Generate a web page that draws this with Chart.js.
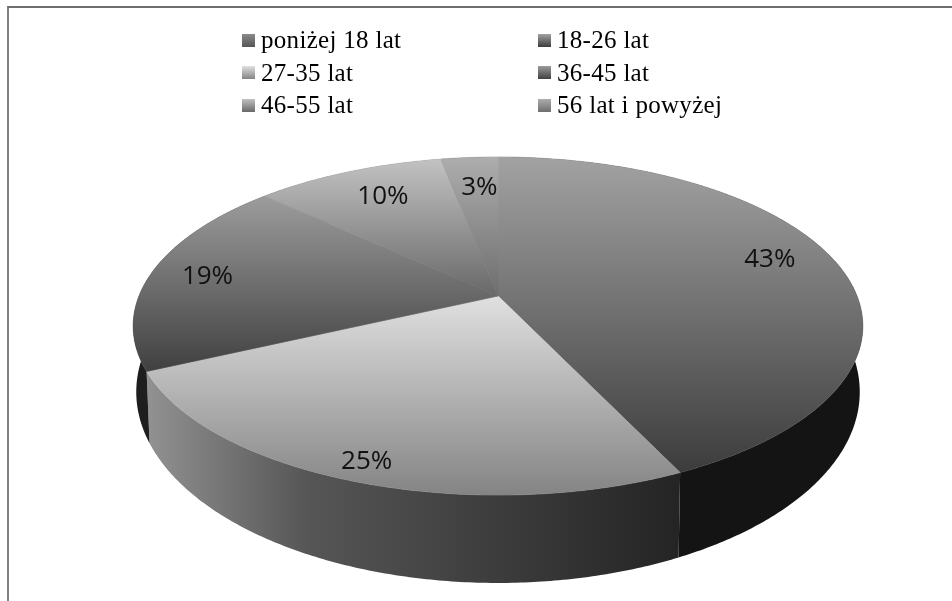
<!DOCTYPE html>
<html lang="pl">
<head>
    <meta charset="utf-8" />
    <title>Wiek</title>
    <script src="https://cdn.jsdelivr.net/npm/chart.js"></script>
    <style>
        html, body { margin: 0; padding: 0; background: #fff; overflow: hidden; }
        #wrap { position: relative; width: 952px; height: 601px; filter: blur(0.6px); }
        #frame {
            position: absolute; left: 7px; top: 6px; right: -4px; bottom: -4px;
            border-left: 2px solid #808080; border-top: 2px solid #6e6e6e;
        }
        #pieChart { position: absolute; left: 0; top: 0; }
        #legend { position: absolute; left: 242px; top: 24px; display: grid;
            grid-template-columns: 296px 220px; grid-auto-rows: 32.5px;
            font: 25px "Liberation Serif", serif; color: #000; letter-spacing: 0.3px; }
        #legend div { display: flex; align-items: center; white-space: nowrap; }
        #legend i { display: block; width: 13px; height: 13px; margin-right: 6px; }
    </style>
</head>
<body>
    <div id="wrap">
        <div id="frame"></div>
        <canvas id="pieChart" width="952" height="601"></canvas>
        <div id="legend"></div>
    </div>
    <script>
        const categories = ['poniżej 18 lat', '18-26 lat', '27-35 lat', '36-45 lat', '46-55 lat', '56 lat i powyżej'];
        const shares = [0, 43, 25, 19, 10, 3];

        // shading, one entry per category
        const topLight = ['#8a8a8a', '#a2a2a2', '#e0e0e0', '#9c9c9c', '#c2c2c2', '#adadad'];
        const topDark = ['#555555', '#3c3c3c', '#848484', '#404040', '#686868', '#6e6e6e'];
        const sideLeft = ['#333333', '#171717', '#929292', '#1e1e1e', '#444444', '#444444'];
        const sideMid = ['#333333', '#161616', '#565656', '#222222', '#444444', '#444444'];
        const sideRight = ['#333333', '#141414', '#242424', '#2a2a2a', '#444444', '#444444'];
        // where the percent text sits relative to the middle of its slice
        const labelShift = [[0, 0], [0, -9], [-19, 23], [-13, 1], [8, 3], [5, 6]];

        // the pie is a circle seen in perspective
        const view = { x: 498, y: 296, a: 359, b: 163.7, k: 0.1776, lowA: 356, lowB: 174, depth: 62 };

        function rimPoint(angle, r, lower) {
            const u = Math.sin(angle) * r, v = -Math.cos(angle) * r;
            const d = 1 - view.k * v;
            if (lower) {
                return [view.x + view.lowA * u / d, view.y + (view.lowB * v + view.depth) / d];
            }
            return [view.x + view.a * u / d, view.y + view.b * v / d];
        }

        function sampleAngles(start, end) {
            const n = Math.max(2, Math.ceil((end - start) / 0.01));
            const list = [];
            for (let i = 0; i <= n; i++) list.push(start + (end - start) * i / n);
            return list;
        }

        const pie3d = {
            id: 'pie3d',
            beforeDatasetDraw(chart, args) {
                const ctx = chart.ctx;
                const arcs = chart.getDatasetMeta(args.index).data;
                ctx.save();
                // side wall
                arcs.forEach((arc, i) => {
                    if (!shares[i]) return;
                    const angles = sampleAngles(arc.startAngle + Math.PI / 2, arc.endAngle + Math.PI / 2);
                    const first = rimPoint(angles[0], 1);
                    const last = rimPoint(angles[angles.length - 1], 1);
                    const g = ctx.createLinearGradient(Math.min(first[0], last[0]), 0, Math.max(first[0], last[0]), 0);
                    g.addColorStop(0, sideLeft[i]);
                    g.addColorStop(0.3, sideMid[i]);
                    g.addColorStop(1, sideRight[i]);
                    ctx.fillStyle = g;
                    ctx.beginPath();
                    angles.forEach(a => {
                        const p = rimPoint(a, 1);
                        ctx.lineTo(p[0], p[1]);
                    });
                    angles.slice().reverse().forEach(a => {
                        const q = rimPoint(a, 1, true);
                        ctx.lineTo(q[0], q[1]);
                    });
                    ctx.closePath();
                    ctx.fill();
                });
                // top faces
                arcs.forEach((arc, i) => {
                    if (!shares[i]) return;
                    const angles = sampleAngles(arc.startAngle + Math.PI / 2, arc.endAngle + Math.PI / 2);
                    const pts = angles.map(a => rimPoint(a, 1));
                    const ys = pts.map(p => p[1]).concat(view.y);
                    const g = ctx.createLinearGradient(0, Math.min.apply(null, ys), 0, Math.max.apply(null, ys));
                    g.addColorStop(0, topLight[i]);
                    g.addColorStop(1, topDark[i]);
                    ctx.fillStyle = g;
                    ctx.strokeStyle = g;
                    ctx.lineWidth = 0.7;
                    ctx.beginPath();
                    ctx.moveTo(view.x, view.y);
                    pts.forEach(p => ctx.lineTo(p[0], p[1]));
                    ctx.closePath();
                    ctx.fill();
                    ctx.stroke();
                });
                ctx.restore();
                return false;
            },
            afterDatasetsDraw(chart) {
                const ctx = chart.ctx;
                ctx.save();
                ctx.font = '26px "Open Sans", sans-serif';
                ctx.fillStyle = '#111111';
                ctx.textAlign = 'center';
                ctx.textBaseline = 'middle';
                chart.getDatasetMeta(0).data.forEach((arc, i) => {
                    if (!shares[i]) return;
                    const p = rimPoint((arc.startAngle + arc.endAngle) / 2 + Math.PI / 2, 0.8);
                    ctx.fillText(shares[i] + '%', p[0] + labelShift[i][0], p[1] + labelShift[i][1]);
                });
                ctx.restore();
            }
        };

        // legend is two aligned columns, the built-in one can't do that
        const legendEl = document.getElementById('legend');
        categories.forEach((name, i) => {
            const row = document.createElement('div');
            const box = document.createElement('i');
            box.style.background = 'linear-gradient(' + topLight[i] + ',' + topDark[i] + ')';
            row.appendChild(box);
            row.appendChild(document.createTextNode(name));
            legendEl.appendChild(row);
        });

        new Chart(document.getElementById('pieChart'), {
            type: 'pie',
            data: {
                labels: categories,
                datasets: [{ data: shares, backgroundColor: topDark, borderWidth: 0 }]
            },
            options: {
                responsive: false,
                animation: false,
                plugins: { legend: { display: false }, tooltip: { enabled: false } }
            },
            plugins: [pie3d]
        });
    </script>
</body>
</html>
